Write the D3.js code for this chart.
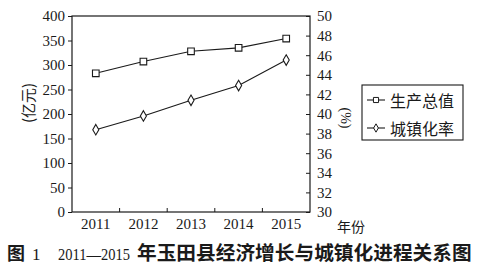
<!DOCTYPE html>
<html>
<head>
<meta charset="utf-8">
<script src="https://cdn.jsdelivr.net/npm/d3@7"></script>
<style>
  body { margin: 0; background: #fff; }
  svg { display: block; }
</style>
</head>
<body>
<svg id="chart" width="481" height="266"></svg>
<script>
// values
var years = ["2011", "2012", "2013", "2014", "2015"];
var gdp = [283, 307, 328, 335, 354];          // 亿元, left axis
var urban = [38.4, 39.8, 41.4, 42.9, 45.5];    // %, right axis
var leftTicks = [0, 50, 100, 150, 200, 250, 300, 350, 400];
var rightTicks = [30, 32, 34, 36, 38, 40, 42, 44, 46, 48, 50];
var legendNames = ["生产总值", "城镇化率"];

var serif = "'Liberation Serif', 'DejaVu Serif', serif";
var cjk = "'Noto Sans CJK SC', sans-serif";
var ink = "#1a1a1a";

var svg = d3.select("#chart");
// plot frame (note: "top" is taken by window.top, so use other names)
var fLeft = 72, fRight = 310, fTop = 16, fBottom = 212;

var x = d3.scaleBand().domain(years).range([fLeft, fRight]);
var yL = d3.scaleLinear().domain([0, 400]).range([fBottom, fTop]);
var yR = d3.scaleLinear().domain([30, 50]).range([fBottom, fTop]);

// frame
svg.append("rect")
   .attr("x", fLeft).attr("y", fTop)
   .attr("width", fRight - fLeft).attr("height", fBottom - fTop)
   .attr("fill", "none").attr("stroke", ink).attr("stroke-width", 1.2);

// left axis, ticks outward
var gL = svg.append("g").attr("transform", "translate(" + fLeft + ",0)")
    .call(d3.axisLeft(yL).tickValues(leftTicks).tickSize(4).tickPadding(3));

// right axis, ticks pointing inward
var gR = svg.append("g").attr("transform", "translate(" + fRight + ",0)")
    .call(d3.axisRight(yR).tickValues(rightTicks).tickSize(-4).tickPadding(7));

// bottom axis: labels under the bands, small ticks at the band edges
var gB = svg.append("g").attr("transform", "translate(0," + fBottom + ")")
    .call(d3.axisBottom(x).tickSize(0).tickPadding(6));

svg.selectAll(".sep")
   .data(years.slice(1))
   .enter().append("line")
   .attr("x1", function(d){ return x(d); })
   .attr("x2", function(d){ return x(d); })
   .attr("y1", fBottom).attr("y2", fBottom - 4)
   .attr("stroke", ink).attr("stroke-width", 1);

[gL, gR, gB].forEach(function(g){
    g.select(".domain").remove();
    g.selectAll("line").attr("stroke", ink).attr("stroke-width", 1);
    g.selectAll("text").attr("fill", ink)
     .style("font-family", serif).style("font-size", "15px");
});

// axis titles
svg.append("text")
   .attr("transform", "translate(27,103) rotate(-90)")
   .attr("text-anchor", "middle").attr("dominant-baseline", "central")
   .style("font-family", cjk).style("font-size", "15px").attr("fill", ink)
   .text("(亿元)");

svg.append("text")
   .attr("transform", "translate(345,118) rotate(90)")
   .attr("text-anchor", "middle").attr("dominant-baseline", "central")
   .style("font-family", serif).style("font-size", "14px").attr("fill", ink)
   .text("(%)");

svg.append("text")
   .attr("x", 337).attr("y", 232)
   .style("font-family", cjk).style("font-size", "14px").attr("fill", ink)
   .text("年份");

// series
function cx(d, i){ return x(years[i]) + x.bandwidth() / 2; }

var lineL = d3.line().x(cx).y(function(d){ return yL(d); });
var lineR = d3.line().x(cx).y(function(d){ return yR(d); });

svg.append("path").datum(gdp).attr("d", lineL)
   .attr("fill", "none").attr("stroke", ink).attr("stroke-width", 1.1);
svg.append("path").datum(urban).attr("d", lineR)
   .attr("fill", "none").attr("stroke", ink).attr("stroke-width", 1.1);

var square = d3.symbol().type(d3.symbolSquare).size(44);
var diamond = d3.symbol().type(d3.symbolDiamond).size(32);

svg.selectAll(".sq").data(gdp).enter().append("path")
   .attr("d", square)
   .attr("transform", function(d, i){ return "translate(" + cx(d, i) + "," + yL(d) + ")"; })
   .attr("fill", "#fff").attr("stroke", ink).attr("stroke-width", 1.1);

svg.selectAll(".dm").data(urban).enter().append("path")
   .attr("d", diamond)
   .attr("transform", function(d, i){ return "translate(" + cx(d, i) + "," + yR(d) + ")"; })
   .attr("fill", "#fff").attr("stroke", ink).attr("stroke-width", 1.1);

// legend
var lg = svg.append("g");
lg.append("rect").attr("x", 362).attr("y", 85).attr("width", 101).attr("height", 55)
  .attr("fill", "#fff").attr("stroke", ink).attr("stroke-width", 1.1);

var rows = lg.selectAll(".row").data(legendNames).enter().append("g")
  .attr("transform", function(d, i){ return "translate(0," + (100 + i * 28) + ")"; });

rows.append("line").attr("x1", 367).attr("x2", 385).attr("y1", 0).attr("y2", 0)
    .attr("stroke", ink).attr("stroke-width", 1.1);
rows.append("path")
    .attr("d", function(d, i){ return i === 0 ? d3.symbol().type(d3.symbolSquare).size(26)() : d3.symbol().type(d3.symbolDiamond).size(20)(); })
    .attr("transform", "translate(376,0)")
    .attr("fill", "#fff").attr("stroke", ink).attr("stroke-width", 1);
rows.append("text").attr("x", 390).attr("y", 0).attr("dominant-baseline", "central")
    .style("font-family", cjk).style("font-size", "16px").attr("fill", ink)
    .text(function(d){ return d; });

// caption
var cap = svg.append("text").attr("x", 7).attr("y", 260).attr("fill", ink);
cap.append("tspan").style("font-family", cjk).style("font-weight", "bold").style("font-size", "18px").text("图");
cap.append("tspan").attr("x", 32).style("font-family", serif).style("font-size", "17px").text("1");
cap.append("tspan").attr("x", 58).style("font-family", serif).style("font-size", "17px")
   .attr("textLength", 72).attr("lengthAdjust", "spacingAndGlyphs").text("2011—2015");
cap.append("tspan").attr("x", 137).style("font-family", cjk).style("font-weight", "bold").style("font-size", "19.7px").text("年玉田县经济增长与城镇化进程关系图");
</script>
</body>
</html>
